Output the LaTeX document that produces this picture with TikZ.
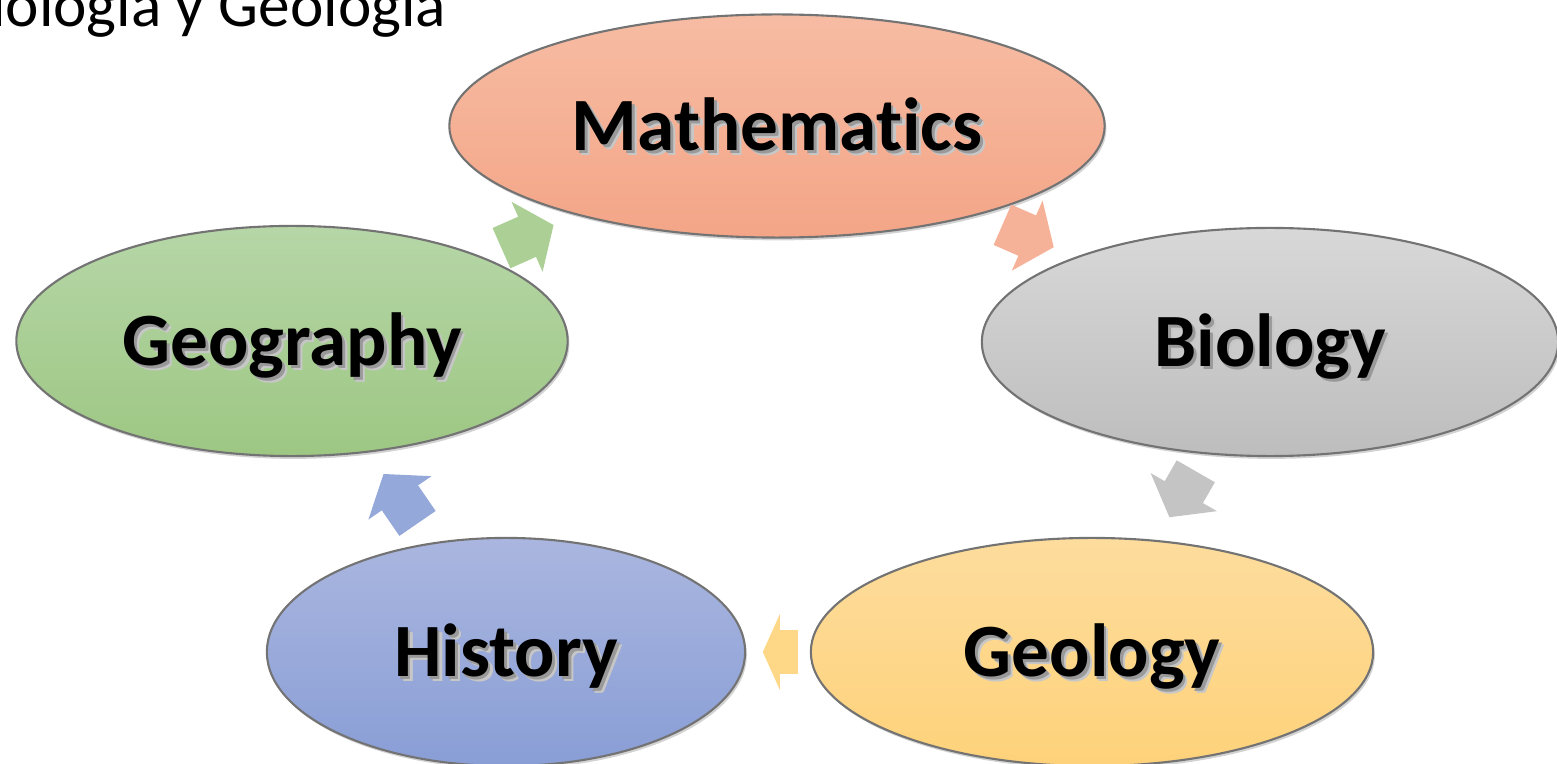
\documentclass[tikz,border=0pt]{standalone}
\usepackage{fontspec}
\setmainfont{Carlito}[Ligatures=NoCommon]
\usetikzlibrary{arrows.meta,calc,shapes.geometric,shadows}
\definecolor{mathtop}{RGB}{246,188,163}
\definecolor{mathbot}{RGB}{244,165,135}
\definecolor{biotop}{RGB}{216,216,216}
\definecolor{biobot}{RGB}{189,189,189}
\definecolor{geogtop}{RGB}{182,214,167}
\definecolor{geogbot}{RGB}{157,199,131}
\definecolor{histtop}{RGB}{170,182,223}
\definecolor{histbot}{RGB}{137,158,214}
\definecolor{geoltop}{RGB}{253,220,157}
\definecolor{geolbot}{RGB}{254,210,122}
\newcommand{\shadowed}[1]{\makebox[0pt][l]{\kern1.4pt\raisebox{-1.4pt}{\textcolor{black!22}{#1}}}\makebox[0pt][l]{\kern0.8pt\raisebox{-0.8pt}{\textcolor{black!40}{#1}}}#1}

\begin{document}
\begin{tikzpicture}[
  x=0.01cm, y=-0.01cm,
  topic/.style 2 args={ellipse, draw=black!55, line width=0.6pt, top color=#1, bottom color=#2,
    inner sep=0pt, text height=14pt, text depth=0pt, font=\fontsize{21.4}{26}\selectfont\bfseries,
    drop shadow={shadow xshift=0.5pt, shadow yshift=-0.8pt, opacity=0.35}},
  blkarr/.style={line width=0.44cm, -{Triangle[length=#1, width=0.75cm]}},
  blkarr/.default=0.29cm
]
\useasboundingbox (0,0) rectangle (1557,764);
\clip (0,0) rectangle (1557,764);
\node[anchor=base east, inner sep=0pt, font=\fontsize{18}{22}\selectfont] (title) at (447,27) {Biología y Geología};
\node[topic={mathtop}{mathbot}, minimum width=6.55cm, minimum height=2.23cm] (math) at (777,126) {\shadowed{Mathematics}};
\node[topic={biotop}{biobot}, minimum width=5.76cm, minimum height=2.28cm] (bio) at (1270,342) {\shadowed{Biology}};
\node[topic={geoltop}{geolbot}, minimum width=5.62cm, minimum height=2.28cm] (geol) at (1092,652) {\shadowed{Geology}};
\node[topic={histtop}{histbot}, minimum width=4.78cm, minimum height=2.28cm] (hist) at (506,652) {\shadowed{History}};
\node[topic={geogtop}{geogbot}, minimum width=5.51cm, minimum height=2.30cm] (geog) at (292,341) {\shadowed{Geography}};
% arrows round the cycle
\draw[blkarr, color=mathbot!85!white] ($(math.center)!2.46cm!(bio.center)$) -- ($(math.center)!3.02cm!(bio.center)$);
\draw[blkarr, color=biobot!90!white] ($(bio.center)!1.49cm!(geol.center)$) -- ($(bio.center)!2.02cm!(geol.center)$);
\draw[blkarr=0.17cm, color=geolbot!90!white] ($(geol.center)!2.94cm!(hist.center)$) -- ($(geol.center)!3.29cm!(hist.center)$);
\draw[blkarr, color=histbot!90!white] ($(hist.center)!1.56cm!(geog.center)$) -- ($(hist.center)!2.16cm!(geog.center)$);
\draw[blkarr, color=geogbot!85!white] ($(geog.center)!2.29cm!(math.center)$) -- ($(geog.center)!2.86cm!(math.center)$);
\end{tikzpicture}
\end{document}
